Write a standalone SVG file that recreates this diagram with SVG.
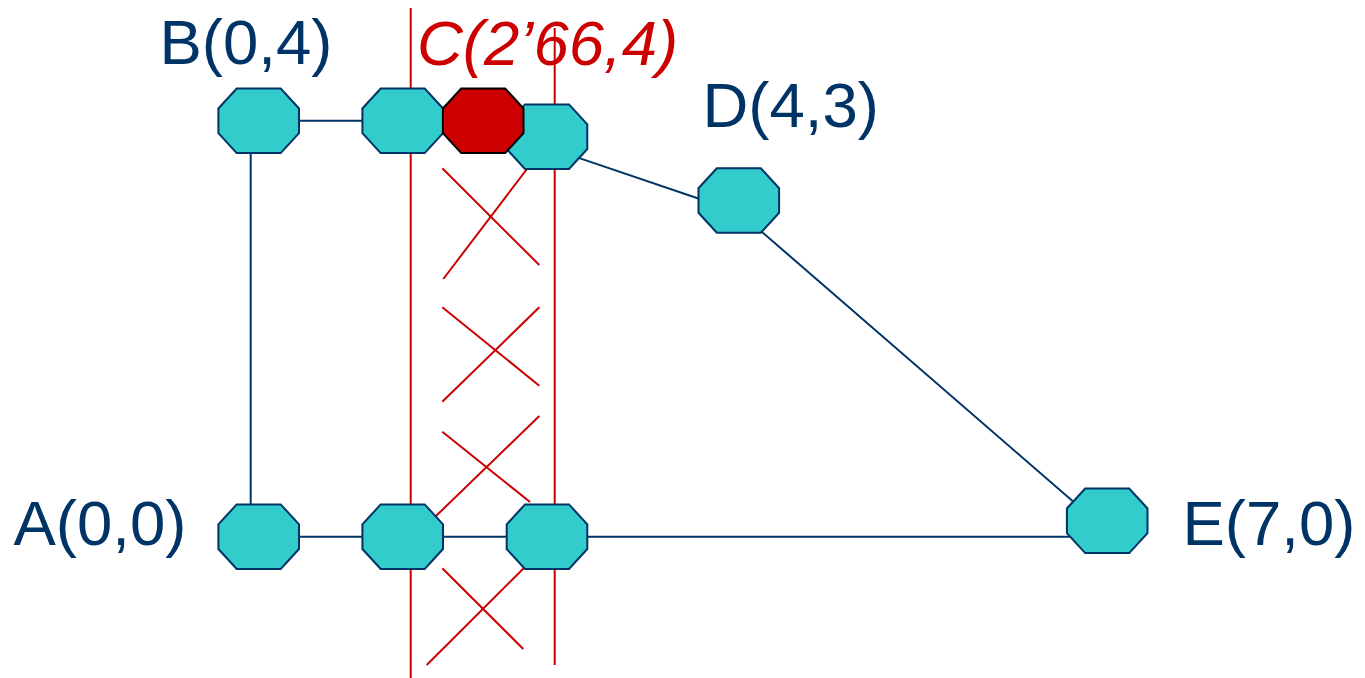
<svg xmlns="http://www.w3.org/2000/svg" width="1365" height="678" viewBox="0 0 1365 678">
  <style>
    .lbl { font-family: "Liberation Sans", Arial, sans-serif; font-size: 63.5px; fill: #003366; }
    .lbl-red { fill: #CC0000; font-style: italic; }
    .edge { stroke: #003366; stroke-width: 2; fill: none; }
    .cut { stroke: #CC0000; stroke-width: 2; fill: none; }
    .node { fill: #33CCCC; stroke: #003366; stroke-width: 2; stroke-linejoin: miter; }
    .node-sel { fill: #CC0000; stroke: #000000; stroke-width: 2; }
  </style>
  <defs>
    <polygon id="oct" points="-22,-32.3 22,-32.3 40.3,-12.3 40.3,12.3 22,32.3 -22,32.3 -40.3,12.3 -40.3,-12.3"/>
  </defs>

  <rect width="1365" height="678" fill="#ffffff"/>

  <!-- sweep lines and discarded segments -->
  <g id="sweep">
    <line class="cut" x1="410.7" y1="8" x2="410.7" y2="678"/>
    <line class="cut" x1="554.7" y1="28" x2="554.7" y2="665"/>
    <line class="cut" x1="442.3" y1="168.3" x2="539.3" y2="265"/>
    <line class="cut" x1="443.3" y1="279" x2="530" y2="165"/>
    <line class="cut" x1="442.3" y1="307.3" x2="539.3" y2="385.7"/>
    <line class="cut" x1="442.3" y1="401.7" x2="539.3" y2="307.3"/>
    <line class="cut" x1="442.3" y1="431.7" x2="530" y2="502"/>
    <line class="cut" x1="436" y1="516" x2="539.3" y2="416"/>
    <line class="cut" x1="442.3" y1="568.3" x2="523.3" y2="649"/>
    <line class="cut" x1="426.7" y1="665" x2="530" y2="562"/>
  </g>

  <!-- connectors -->
  <g id="connectors">
    <line class="edge" x1="290" y1="120.8" x2="370" y2="120.8"/>
    <line class="edge" x1="250.7" y1="150" x2="250.7" y2="508"/>
    <line class="edge" x1="290" y1="536.7" x2="1075" y2="536.7"/>
    <line class="edge" x1="575" y1="156.6" x2="702" y2="199.8"/>
    <line class="edge" x1="758" y1="228.5" x2="1076" y2="504"/>
  </g>

  <!-- nodes -->
  <g id="node-b"><use href="#oct" class="node" x="258.7" y="120.8"/></g>
  <g id="node-top-1"><use href="#oct" class="node" x="402.7" y="120.8"/></g>
  <g id="node-top-2"><use href="#oct" class="node" x="547" y="136.7"/></g>
  <g id="node-c"><use href="#oct" class="node-sel" x="483.2" y="120.8"/></g>
  <g id="node-d"><use href="#oct" class="node" x="738.8" y="200.5"/></g>
  <g id="node-a"><use href="#oct" class="node" x="258.7" y="536.7"/></g>
  <g id="node-bottom-1"><use href="#oct" class="node" x="402.7" y="536.7"/></g>
  <g id="node-bottom-2"><use href="#oct" class="node" x="547" y="536.7"/></g>
  <g id="node-e"><use href="#oct" class="node" x="1107.2" y="520.8"/></g>

  <!-- labels -->
  <g id="labels">
    <text class="lbl" x="159.5" y="64">B(0,4)</text>
    <text class="lbl lbl-red" x="417" y="65">C(2’66,4)</text>
    <text class="lbl" x="702.5" y="127">D(4,3)</text>
    <text class="lbl" x="13.5" y="544.5">A(0,0)</text>
    <text class="lbl" x="1182.5" y="544.5">E(7,0)</text>
  </g>
</svg>
